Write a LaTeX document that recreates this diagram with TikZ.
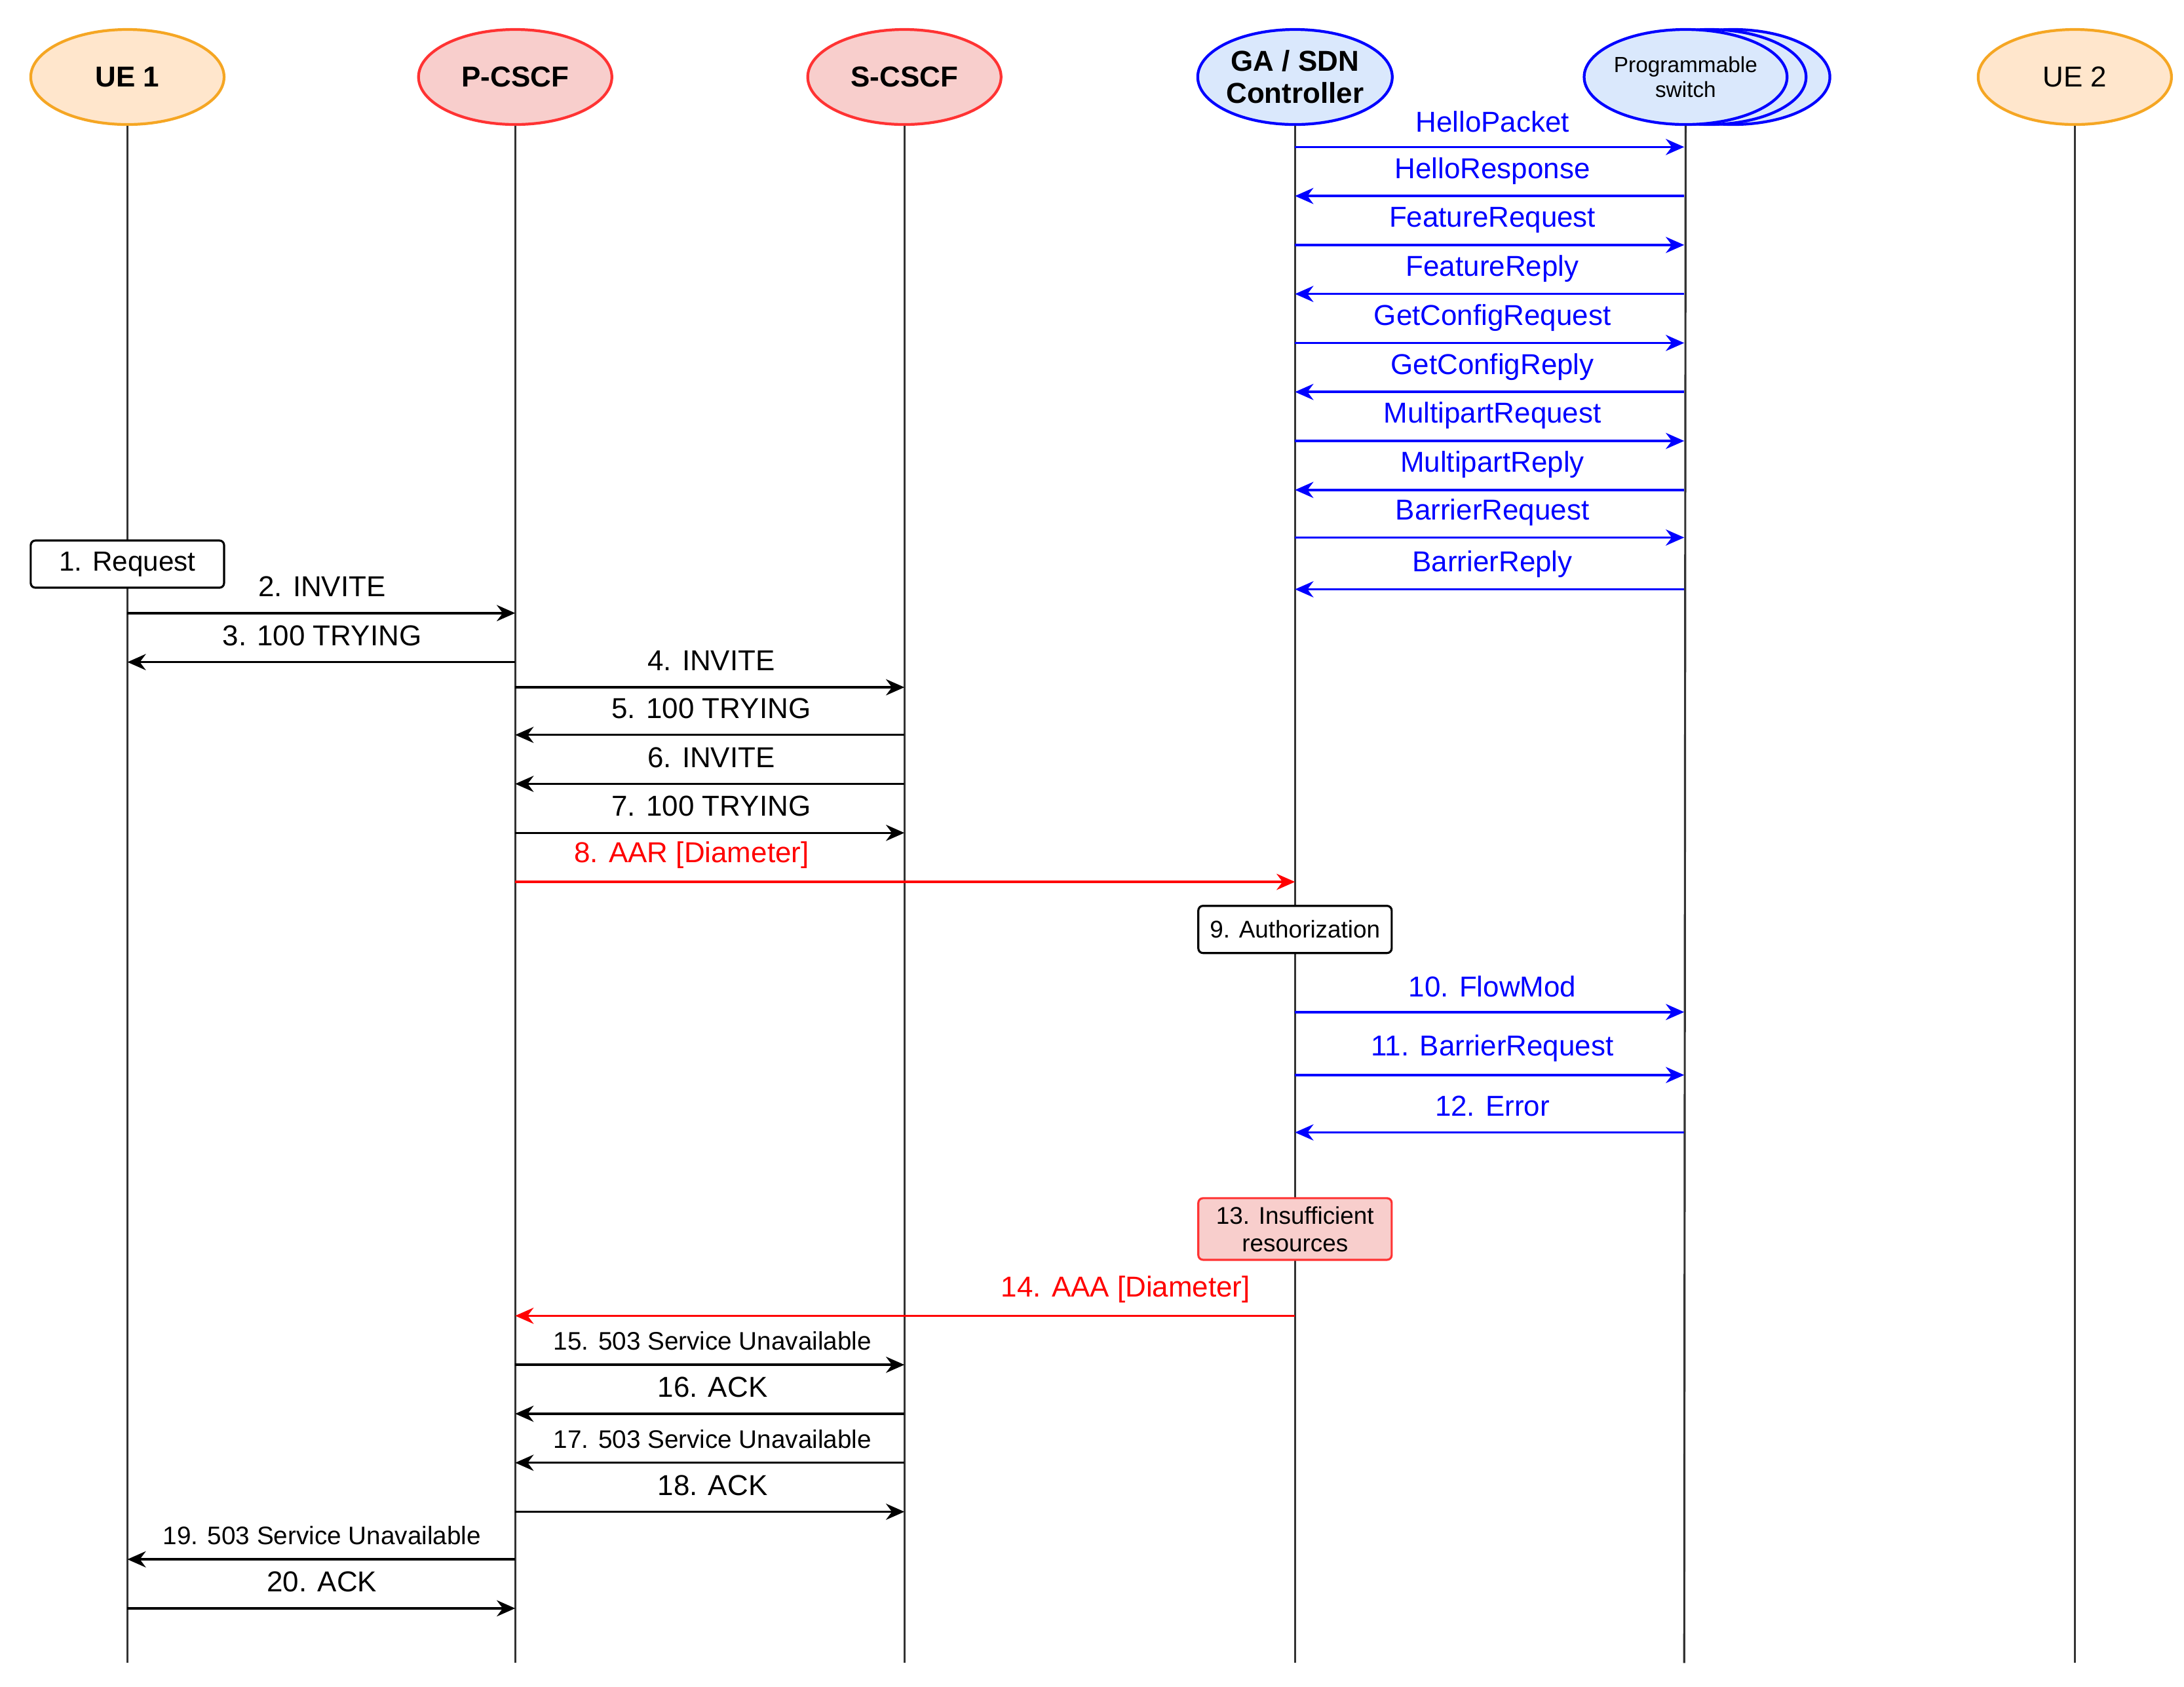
\documentclass[tikz,border=0pt]{standalone}
\usepackage{fontspec}
\setmainfont{Liberation Sans}
\usetikzlibrary{arrows.meta,shapes.geometric}
\definecolor{uef}{HTML}{FFE6CC}\definecolor{ued}{HTML}{F5A623}
\definecolor{csf}{HTML}{F8CECC}\definecolor{csd}{HTML}{FF3333}
\definecolor{gaf}{HTML}{DAE8FC}\definecolor{gad}{HTML}{0000FF}
\begin{document}
\begin{tikzpicture}[x=0.021365cm,y=-0.021365cm,
  ent/.style={ellipse,draw,line width=1.2pt,minimum width=2.95cm,minimum height=1.45cm,font=\fontsize{12.5}{14}\selectfont\bfseries,align=center,inner sep=0pt},
  life/.style={line width=0.9pt,draw=black!80},
  msg/.style={line width=1pt,-{Stealth[length=8pt,width=7pt]}},
  bm/.style={msg,draw=gad},
  rm/.style={msg,draw=red},
  lab/.style={font=\fontsize{12.5}{14}\selectfont,inner sep=1pt},
  blab/.style={lab,text=gad},
  box/.style={draw,rounded corners=2pt,line width=0.9pt,minimum width=2.95cm,font=\fontsize{10.5}{12}\selectfont,align=center,fill=white}]
\useasboundingbox (0,0) rectangle (1560,1205);
% entities
\node[ent,fill=uef,draw=ued] (ue1) at (91,55) {UE 1};
\node[ent,fill=csf,draw=csd] (pc) at (368,55) {P-CSCF};
\node[ent,fill=csf,draw=csd] (sc) at (646,55) {S-CSCF};
\node[ent,fill=gaf,draw=gad] (ga) at (925,55) {GA / SDN\\Controller};
\node[ent,fill=gaf,draw=gad] (sw3) at (1238,55) {};
\node[ent,fill=gaf,draw=gad] (sw2) at (1221,55) {};
\node[ent,fill=gaf,draw=gad,font=\fontsize{9.5}{11}\selectfont] (sw) at (1204,55) {Programmable\\switch};
\node[ent,fill=uef,draw=ued,font=\fontsize{12.5}{14}\selectfont] (ue2) at (1482,55) {UE 2};
% lifelines
\foreach \n/\x in {ue1/91,pc/368,sc/646,ga/925,sw/1203,ue2/1482}{
  \coordinate (\n-b) at (\x,1188);
  \draw[life] (\n.south) -- (\n-b);}
\foreach \n/\x in {ue1/91,pc/368,sc/646,ga/925,sw/1203}{
  \foreach \y in {105,140,175,210,245,280,315,350,384,421,438,473,491,525,560,595,630,723,768,809,940,975,1010,1045,1080,1114,1149}{
   \coordinate (\n-\y) at (\x,\y);}}
% blue messages
\foreach \y/\t/\d in {105/HelloPacket/r,140/HelloResponse/l,175/FeatureRequest/r,210/FeatureReply/l,245/GetConfigRequest/r,280/GetConfigReply/l,315/MultipartRequest/r,350/MultipartReply/l,384/BarrierRequest/r,421/BarrierReply/l}{
  \if r\d \draw[bm] (ga-\y) -- (sw-\y); \else \draw[bm] (sw-\y) -- (ga-\y); \fi
  \node[blab] at (1066,\y-18) {\t};}
% black messages
\node[box,minimum height=0.72cm,font=\fontsize{12}{14}\selectfont] (req) at (91,403) {1. Request};
\draw[msg] (ue1-438) -- (pc-438); \node[lab] at (230,419) {2. INVITE};
\draw[msg] (pc-473) -- (ue1-473); \node[lab] at (230,454) {3. 100 TRYING};
\draw[msg] (pc-491) -- (sc-491); \node[lab] at (508,472) {4. INVITE};
\draw[msg] (sc-525) -- (pc-525); \node[lab] at (508,506) {5. 100 TRYING};
\draw[msg] (sc-560) -- (pc-560); \node[lab] at (508,541) {6. INVITE};
\draw[msg] (pc-595) -- (sc-595); \node[lab] at (508,576) {7. 100 TRYING};
\draw[rm] (pc-630) -- (ga-630); \node[lab,text=red] at (494,611) {8. AAR [Diameter]};
\node[box,minimum height=0.72cm] (auth) at (925,664) {9. Authorization};
\draw[bm] (ga-723) -- (sw-723); \node[blab] at (1066,705) {10. FlowMod};
\draw[bm] (ga-768) -- (sw-768); \node[blab] at (1066,749) {11. BarrierRequest};
\draw[bm] (sw-809) -- (ga-809); \node[blab] at (1066,790) {12. Error};
\node[box,fill=csf,draw=csd,minimum height=0.94cm,inner sep=1pt] (ins) at (925,878) {13. Insufficient\\resources};
\draw[rm] (ga-940) -- (pc-940); \node[lab,text=red] at (804,921) {14. AAA [Diameter]};
\node[lab,font=\fontsize{11}{13}\selectfont] at (509,958) {15. 503 Service Unavailable};
\draw[msg] (pc-975) -- (sc-975);
\draw[msg] (sc-1010) -- (pc-1010); \node[lab] at (509,991) {16. ACK};
\draw[msg] (sc-1045) -- (pc-1045); \node[lab,font=\fontsize{11}{13}\selectfont] at (509,1028) {17. 503 Service Unavailable};
\draw[msg] (pc-1080) -- (sc-1080); \node[lab] at (509,1061) {18. ACK};
\draw[msg] (pc-1114) -- (ue1-1114); \node[lab,font=\fontsize{11}{13}\selectfont] at (230,1097) {19. 503 Service Unavailable};
\draw[msg] (ue1-1149) -- (pc-1149); \node[lab] at (230,1130) {20. ACK};
\end{tikzpicture}
\end{document}
